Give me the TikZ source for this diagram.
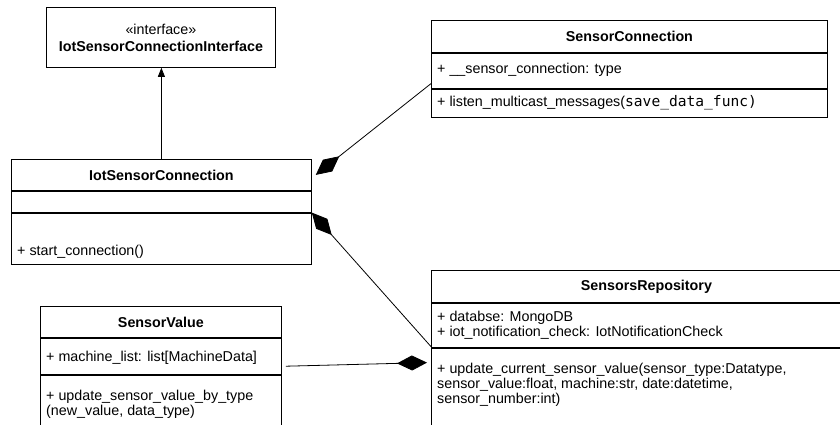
\documentclass[tikz,border=0pt]{standalone}
\usepackage{fontspec}
\setmainfont{Liberation Sans}
\setmonofont{DejaVu Sans Mono}[Scale=1.02]
\usetikzlibrary{arrows.meta,positioning}

\tikzset{
  cls/.style={draw, line width=0.8pt, inner sep=0pt, minimum width=#1, anchor=north west},
  head/.style={font=\bfseries},
  member/.style={anchor=north west, inner sep=0pt, align=left},
  compo/.style={line width=0.8pt, {Diamond[length=30pt,width=15pt]}-},
  realize/.style={line width=0.8pt, -{Triangle[length=9pt,width=7pt]}}
}

\begin{document}
\fontsize{14.3}{15}\selectfont
\begin{tikzpicture}[x=1pt, y=-1pt]
  \useasboundingbox (0,0) rectangle (840,424);
  \clip (0,0) rectangle (840,424);

  \node[cls=229pt, minimum height=60pt, align=center] (iface) at (46,7)
    {«interface»\\[2pt]\textbf{IotSensorConnectionInterface}};

  \node[cls=300pt, minimum height=31pt, head] (iothead) at (11,159) {IotSensorConnection};
  \node[cls=300pt, minimum height=21pt, below=0pt of iothead] (iotattr) {};
  \node[cls=300pt, minimum height=51pt, below=0pt of iotattr] (iotops) {};
  \node[member, below right=32pt and 6pt of iotops.north west] (iotop) {+ start\_connection()};

  \node[cls=396pt, minimum height=32pt, head] (sconnhead) at (431,20) {SensorConnection};
  \node[cls=396pt, minimum height=35pt, below=0pt of sconnhead] (sconnattr) {};
  \node[cls=396pt, minimum height=28pt, below=0pt of sconnattr] (sconnops) {};
  \node[member, below right=10pt and 6pt of sconnattr.north west] (sconnvar) {+ \_\_sensor\_connection: type};
  \node[member, below right=7pt and 6pt of sconnops.north west] (sconnop)
    {+ listen\_multicast\_messages(\texttt{save\_data\_func)}};

  \node[cls=430pt, minimum height=32pt, head] (srepohead) at (431,270) {SensorsRepository};
  \node[cls=430pt, minimum height=44pt, below=0pt of srepohead] (srepoattr) {};
  \node[cls=430pt, minimum height=100pt, below=0pt of srepoattr] (srepoops) {};
  \node[member, below right=8.5pt and 6pt of srepoattr.north west] (srepovar)
    {+ databse: MongoDB\\+ iot\_notification\_check: IotNotificationCheck};
  \node[member, below right=15.5pt and 6pt of srepoops.north west] (srepoop)
    {+ update\_current\_sensor\_value(sensor\_type:Datatype,\\sensor\_value:float, machine:str, date:datetime,\\sensor\_number:int)};

  \node[cls=241pt, minimum height=31pt, head] (svalhead) at (40,306) {SensorValue};
  \node[cls=241pt, minimum height=36pt, below=0pt of svalhead] (svalattr) {};
  \node[cls=241pt, minimum height=80pt, below=0pt of svalattr] (svalops) {};
  \node[member, below right=12.8pt and 6pt of svalattr.north west] (svalvar) {+ machine\_list: list[MachineData]};
  \node[member, below right=15pt and 6pt of svalops.north west] (svalop)
    {+ update\_sensor\_value\_by\_type\\(new\_value, data\_type)};

  \draw[realize] (iothead.north) -- (iothead.north |- iface.south);
  \draw[compo] ([xshift=4pt]iothead.east) -- ([yshift=5pt]sconnattr.south west);
  \draw[compo] (iotattr.south east) -- ([yshift=1pt]srepoattr.south west);
  \draw[compo] ([xshift=-4pt, yshift=-15pt]srepoops.north west) -- ([xshift=4pt, yshift=-10pt]svalattr.east);
\end{tikzpicture}
\end{document}
